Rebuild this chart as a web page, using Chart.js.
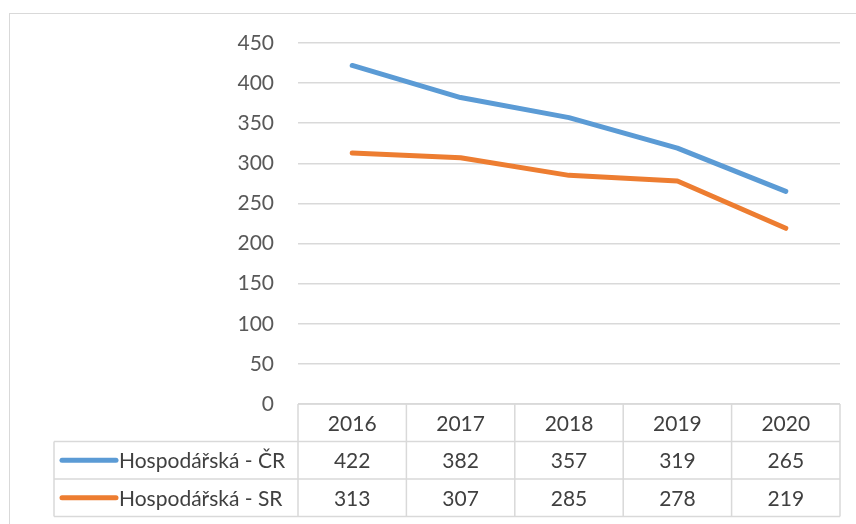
<!DOCTYPE html>
<html>
<head>
<meta charset="utf-8">
<script src="https://cdn.jsdelivr.net/npm/chart.js@4"></script>
<style>
  html, body { margin: 0; padding: 0; background: #fff; }
  #wrap { position: relative; width: 856px; height: 524px; overflow: hidden; }
  #frame { position: absolute; left: 9px; top: 13px; width: 900px; height: 600px; border: 1.5px solid #d9d9d9; box-sizing: border-box; }
  canvas { position: absolute; left: 0; top: 0; }
</style>
</head>
<body>
<div id="wrap">
  <div id="frame"></div>
  <canvas id="chart" width="856" height="524"></canvas>
</div>
<script>
  // data
  const years = ["2016", "2017", "2018", "2019", "2020"];
  const seriesNames = ["Hospodářská - ČR", "Hospodářská - SR"];
  const valuesCR = [422, 382, 357, 319, 265];
  const valuesSR = [313, 307, 285, 278, 219];
  const seriesColors = ["#5b9bd5", "#ed7d31"];

  const FONT = "Lato, 'Open Sans', sans-serif";

  // draws the data table below the plot
  const dataTable = {
    id: "dataTable",
    afterDraw(chart) {
      const ctx = chart.ctx;
      const area = chart.chartArea;
      const x = chart.scales.x;
      const colW = (area.right - area.left) / years.length;
      const rowH = 37.5;
      const top = area.bottom;
      const legendLeft = 54;
      const rows = [valuesCR, valuesSR];

      ctx.save();
      ctx.strokeStyle = "#d9d9d9";
      ctx.lineWidth = 1.5;
      ctx.beginPath();
      for (let i = 0; i <= years.length; i++) {
        const px = area.left + i * colW;
        ctx.moveTo(px, top);
        ctx.lineTo(px, top + rowH * 3);
      }
      ctx.moveTo(area.left, top);
      ctx.lineTo(area.right, top);
      for (let r = 1; r <= 3; r++) {
        ctx.moveTo(legendLeft, top + rowH * r);
        ctx.lineTo(area.right, top + rowH * r);
      }
      ctx.moveTo(legendLeft, top + rowH);
      ctx.lineTo(legendLeft, top + rowH * 3);
      ctx.stroke();

      ctx.font = "21px " + FONT;
      ctx.fillStyle = "#404040";
      ctx.textBaseline = "middle";
      ctx.textAlign = "center";
      years.forEach((y, i) => {
        ctx.fillText(y, x.getPixelForValue(i), top + rowH / 2 + 1);
      });
      rows.forEach((vals, r) => {
        const cy = top + rowH * (r + 1.5) + 1;
        vals.forEach((v, i) => {
          ctx.fillText(String(v), x.getPixelForValue(i), cy);
        });
        // legend key
        ctx.strokeStyle = seriesColors[r];
        ctx.lineWidth = 5;
        ctx.lineCap = "round";
        ctx.beginPath();
        ctx.moveTo(62, cy - 1);
        ctx.lineTo(116, cy - 1);
        ctx.stroke();
        ctx.textAlign = "left";
        ctx.fillText(seriesNames[r], 119, cy);
        ctx.textAlign = "center";
      });
      ctx.restore();
    }
  };

  new Chart(document.getElementById("chart"), {
    type: "line",
    data: {
      labels: years,
      datasets: [
        {
          label: seriesNames[0],
          data: valuesCR,
          borderColor: seriesColors[0],
          backgroundColor: seriesColors[0],
          borderWidth: 5,
          borderCapStyle: "round",
          borderJoinStyle: "round",
          pointRadius: 0,
          tension: 0
        },
        {
          label: seriesNames[1],
          data: valuesSR,
          borderColor: seriesColors[1],
          backgroundColor: seriesColors[1],
          borderWidth: 5,
          borderCapStyle: "round",
          borderJoinStyle: "round",
          pointRadius: 0,
          tension: 0
        }
      ]
    },
    options: {
      responsive: false,
      animation: false,
      layout: { padding: { left: 0, top: 43, right: 16, bottom: 120 } },
      plugins: {
        legend: { display: false },
        tooltip: { enabled: false }
      },
      scales: {
        x: {
          display: false,
          offset: true
        },
        y: {
          min: 0,
          max: 450,
          ticks: {
            stepSize: 50,
            color: "#595959",
            font: { family: FONT, size: 21 },
            padding: 24
          },
          grid: {
            color: "#d9d9d9",
            lineWidth: 1.5,
            drawTicks: false
          },
          border: { display: false },
          afterFit(scale) { scale.width = 298; }
        }
      }
    },
    plugins: [dataTable]
  });
</script>
</body>
</html>
